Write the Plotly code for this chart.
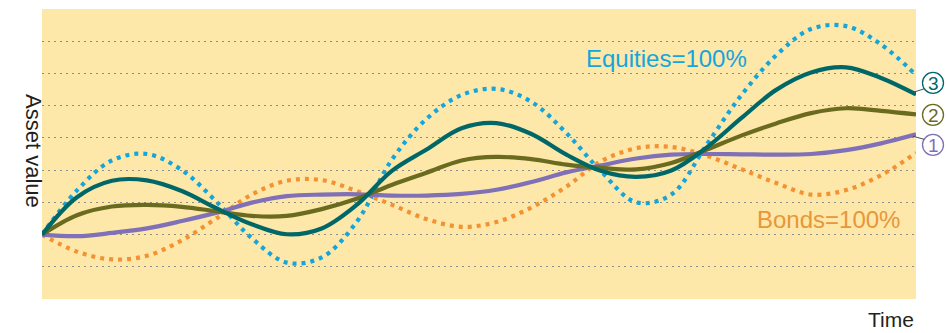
import plotly.graph_objects as go

# Time axis (arbitrary units, start to end of the horizon)
time = [0, 4, 8, 12, 16, 20, 24, 28, 32, 36, 40, 44, 48,
        52, 56, 60, 64, 68, 72, 76, 80, 84, 88, 92, 96, 100]

# Asset value paths for each allocation
equities = [2.00, 3.37, 4.30, 4.50, 4.00, 3.01, 1.89, 1.13, 1.29, 2.39, 4.31, 5.59, 6.33,
            6.52, 6.12, 5.15, 3.95, 3.00, 3.24, 4.77, 6.32, 7.56, 8.38, 8.47, 7.90, 6.95]
bonds = [2.00, 1.47, 1.23, 1.34, 1.82, 2.51, 3.24, 3.67, 3.69, 3.35, 2.93, 2.48, 2.24,
         2.39, 2.84, 3.49, 4.28, 4.68, 4.72, 4.45, 4.03, 3.60, 3.24, 3.38, 3.84, 4.53]
mix_1 = [2.00, 1.95, 2.05, 2.19, 2.42, 2.68, 2.99, 3.19, 3.24, 3.25, 3.21, 3.21, 3.26,
         3.39, 3.63, 3.93, 4.15, 4.36, 4.48, 4.50, 4.49, 4.48, 4.50, 4.62, 4.83, 5.11]
mix_2 = [2.00, 2.60, 2.87, 2.92, 2.86, 2.72, 2.58, 2.58, 2.79, 3.11, 3.54, 3.92, 4.30,
         4.41, 4.34, 4.17, 4.07, 4.02, 4.22, 4.63, 5.07, 5.45, 5.77, 5.92, 5.84, 5.73]
mix_3 = [2.00, 3.16, 3.67, 3.68, 3.35, 2.81, 2.32, 2.01, 2.19, 2.92, 3.97, 4.64, 5.30,
         5.46, 5.12, 4.48, 3.97, 3.79, 3.99, 4.69, 5.61, 6.49, 7.03, 7.19, 6.86, 6.35]

grid_values = [1, 2, 3, 4, 5, 6, 7, 8]
y_range = [0, 9]

BLUE = "#14A5DC"
ORANGE = "#F39233"
PURPLE = "#7F70B8"
OLIVE = "#6B6B1F"
TEAL = "#006769"
BG = "#FDE8A9"

W, H = 947, 333
M = dict(l=42, r=31, t=9, b=34)
plot_w = W - M["l"] - M["r"]
plot_h = H - M["t"] - M["b"]

fig = go.Figure()

def add_path(values, color, dash=None):
    line = dict(color=color, width=4.2, shape="spline", smoothing=1)
    if dash:
        line["dash"] = dash
    fig.add_trace(go.Scatter(x=time, y=values, mode="lines", line=line,
                             hoverinfo="skip", showlegend=False))

add_path(bonds, ORANGE, "4px,5px")
add_path(equities, BLUE, "4px,5px")
add_path(mix_1, PURPLE)
add_path(mix_2, OLIVE)
add_path(mix_3, TEAL)

annotations = [
    dict(text="Equities=100%", x=71.4, y=7.45, xref="x", yref="y", showarrow=False,
         font=dict(family="Liberation Sans, Arial", size=24, color=BLUE)),
    dict(text="Bonds=100%", x=90.0, y=2.48, xref="x", yref="y", showarrow=False,
         font=dict(family="Liberation Sans, Arial", size=24, color="#E8963A")),
    dict(text="Asset value", x=-0.0263, y=0.512, xref="paper", yref="paper",
         textangle=90, showarrow=False,
         font=dict(family="Liberation Sans, Arial", size=22, color="#231F20")),
    dict(text="Time", x=1.0, y=-0.072, xref="paper", yref="paper",
         xanchor="right", yanchor="middle", showarrow=False,
         font=dict(family="Liberation Sans, Arial", size=21, color="#231F20")),
]
shapes = []

# Circled numbers identifying the mixed allocations, offset (px) from each path's end
radius = 10.5
for label, values, color, dx, dy, leader in [("3", mix_3, TEAL, 17, -11.5, True),
                                             ("2", mix_2, OLIVE, 17, 0.5, False),
                                             ("1", mix_1, PURPLE, 17, 10.5, True)]:
    end_px = (M["l"] + plot_w,
              M["t"] + plot_h * (1 - (values[-1] - y_range[0]) / (y_range[1] - y_range[0])))
    cx, cy = end_px[0] + dx, end_px[1] + dy

    def to_paper(px, py):
        return (px - M["l"]) / plot_w, 1 - (py - M["t"]) / plot_h

    x0, y0 = to_paper(cx - radius, cy + radius)
    x1, y1 = to_paper(cx + radius, cy - radius)
    shapes.append(dict(type="circle", xref="paper", yref="paper",
                       x0=x0, y0=y0, x1=x1, y1=y1,
                       line=dict(color=color, width=1.3), fillcolor="white",
                       layer="above"))
    if leader:
        dist = (dx ** 2 + dy ** 2) ** 0.5
        ex, ey = cx - radius * dx / dist, cy - radius * dy / dist
        lx0, ly0 = to_paper(end_px[0] - 3, end_px[1] + 3 * dy / dx)
        lx1, ly1 = to_paper(ex, ey)
        shapes.append(dict(type="line", xref="paper", yref="paper",
                           x0=lx0, y0=ly0, x1=lx1, y1=ly1,
                           line=dict(color="#4A4A4A", width=1), layer="above"))
    tx, ty = to_paper(cx, cy + 0.5)
    annotations.append(dict(text=label, x=tx, y=ty, xref="paper", yref="paper",
                            showarrow=False, xanchor="center", yanchor="middle",
                            font=dict(family="Liberation Sans, Arial", size=19,
                                      color=color)))

fig.update_layout(
    width=W, height=H,
    margin=M,
    paper_bgcolor="white",
    plot_bgcolor=BG,
    annotations=annotations,
    shapes=shapes,
    xaxis=dict(range=[0, 100], showgrid=False, zeroline=False,
               showticklabels=False, ticks=""),
    yaxis=dict(range=y_range, tickvals=grid_values, showgrid=True,
               gridcolor="#8C8C8C", gridwidth=1.4, griddash="2px,4px",
               zeroline=False, showticklabels=False, ticks=""),
)

fig.write_html("out.html")
